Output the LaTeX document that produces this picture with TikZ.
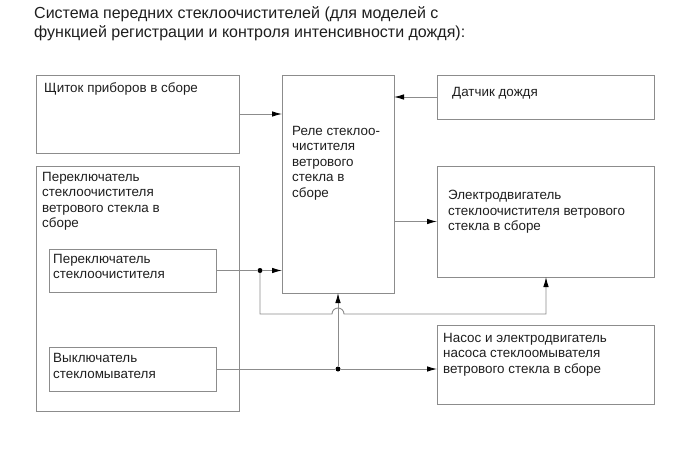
\documentclass[tikz,border=0pt]{standalone}
\usepackage{fontspec}
\setmainfont{Liberation Sans}
\usepackage{tikz}
\usetikzlibrary{arrows.meta}
\definecolor{linegray}{RGB}{140,140,140}
\definecolor{textgray}{RGB}{30,30,30}

\begin{document}
\begin{tikzpicture}[x=1pt, y=-1pt, every node/.style={font=\fontsize{13.4}{15.5}\selectfont, text=textgray},
	>={Latex[length=10pt, width=5.5pt, color=black]},
	box/.style={draw=linegray, line width=0.9pt, anchor=north west, inner sep=0pt, outer sep=0pt},
	txt/.style={anchor=base west, align=left, inner sep=0pt},
	wire/.style={draw=linegray, line width=0.9pt},
	dot/.style={circle, fill=black, inner sep=0pt, minimum size=5pt}]
	\useasboundingbox (0,0) rectangle (690,465);
	% anchor base = last line
	\node[txt, font=\fontsize{16}{19}\selectfont] (title) at (34,38) {Система передних стеклоочистителей (для моделей с\\ функцией регистрации и контроля интенсивности дождя):};
	% boxes
	\node[box, minimum width=203pt, minimum height=78pt] (shchitok) at (36,75) {};
	\node[box, minimum width=203pt, minimum height=245pt] (pereklblok) at (36,166) {};
	\node[box, minimum width=167pt, minimum height=43pt] (perekl) at (49,249) {};
	\node[box, minimum width=167pt, minimum height=44pt] (vykl) at (49,347) {};
	\node[box, minimum width=112pt, minimum height=218pt] (rele) at (282,75) {};
	\node[box, minimum width=217pt, minimum height=44pt] (datchik) at (437,75) {};
	\node[box, minimum width=217pt, minimum height=111pt] (motor) at (437,166) {};
	\node[box, minimum width=217pt, minimum height=79pt] (nasos) at (437,325) {};
	% texts
	\node[txt] (shchitok-t) at (44,93) {Щиток приборов в сборе};
	\node[txt] (pereklblok-t) at (42,227.5) {Переключатель\\ стеклоочистителя\\ ветрового стекла в\\ сборе};
	\node[txt] (perekl-t) at (53,278.5) {Переключатель\\ стеклоочистителя};
	\node[txt] (vykl-t) at (53,378) {Выключатель\\ стекломывателя};
	\node[txt] (rele-t) at (292,197) {Реле стеклоо-\\ чистителя\\ ветрового\\ стекла в\\ сборе};
	\node[txt] (datchik-t) at (452,97) {Датчик дождя};
	\node[txt] (motor-t) at (448,230.5) {Электродвигатель\\ стеклоочистителя ветрового\\ стекла в сборе};
	\node[txt] (nasos-t) at (443,373) {Насос и электродвигатель\\ насоса стеклоомывателя\\ ветрового стекла в сборе};
	% junctions
	\node[dot] (j1) at (perekl.east -| 260,0) {};
	\node[dot] (j2) at (vykl.east -| 338,0) {};
	% connectors
	\draw[wire, ->] (shchitok.east) -- (shchitok.east -| rele.west);
	\draw[wire, ->] (datchik.west) -- (datchik.west -| rele.east);
	\draw[wire, ->] (rele.east |- motor.west) -- (motor.west);
	\draw[wire] (perekl.east) -- (j1);
	\draw[wire, ->] (j1) -- (j1 -| rele.west);
	\draw[wire, ->] (j1) |- (332,314) arc[start angle=180, end angle=0, radius=6pt] -| (motor.south -| 546,0);
	\draw[wire] (vykl.east) -- (j2);
	\draw[wire, ->] (j2) -- (j2 -| nasos.west);
	\draw[wire, ->] (j2) -- (j2 |- rele.south);
\end{tikzpicture}
\end{document}
